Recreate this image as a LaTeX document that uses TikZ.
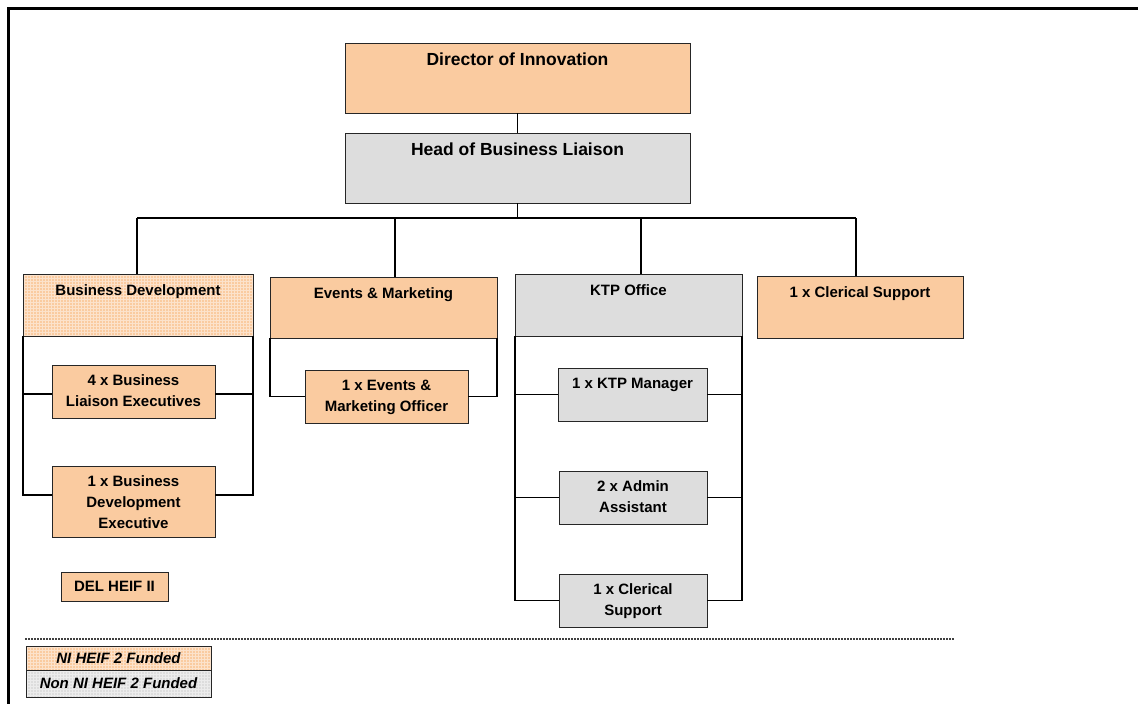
\documentclass[tikz,border=0pt]{standalone}
\usepackage{fontspec}
\setmainfont{Liberation Sans}
\usetikzlibrary{calc,patterns}
\definecolor{orgfill}{RGB}{250,203,160}
\definecolor{grayfill}{RGB}{221,221,221}
\begin{document}
\begin{tikzpicture}[x=1pt,y=-1pt,
  box/.style={draw=black!85, line width=1pt, inner sep=0pt, outer sep=0pt, anchor=north west},
  obox/.style={box, fill=orgfill},
  gbox/.style={box, fill=grayfill},
  pobox/.style={box, preaction={fill=orgfill}, pattern=grid, pattern color=white!45!orgfill},
  pgbox/.style={box, preaction={fill=grayfill}, pattern=grid, pattern color=white!45!grayfill},
  txt/.style={font=\bfseries\fontsize{15}{21}\selectfont, align=center, inner sep=0pt, anchor=north},
  bigtxt/.style={font=\bfseries\fontsize{17.5}{22}\selectfont, align=center, inner sep=0pt, anchor=north},
  ctxt/.style={font=\bfseries\fontsize{15}{21}\selectfont, align=center, inner sep=0pt},
  legtxt/.style={font=\bfseries\itshape\fontsize{15}{21}\selectfont, inner sep=0pt},
  conn/.style={line width=1.3pt, black}]
\useasboundingbox (0,0) rectangle (1138,704);
% frame
\draw[line width=3pt] (8.7,704) -- (8.7,8.7) -- (1138,8.7);

% boxes
\node[obox, minimum width=345, minimum height=70] (dir) at (345,43) {};
\node[gbox, minimum width=345, minimum height=70] (head) at (345,133) {};
\node[pobox, minimum width=230, minimum height=62] (bd) at (23,274) {};
\node[obox, minimum width=227, minimum height=61] (em) at (270,277) {};
\node[gbox, minimum width=227, minimum height=62] (ktp) at (515,274) {};
\node[obox, minimum width=206, minimum height=62] (cs) at (757,276) {};
\node[obox, minimum width=163, minimum height=53] (ble) at (52,365) {};
\node[obox, minimum width=163, minimum height=71] (bde) at (52,466) {};
\node[obox, minimum width=163, minimum height=53] (emo) at (305,370) {};
\node[gbox, minimum width=149, minimum height=53] (ktpm) at (558,368) {};
\node[gbox, minimum width=148, minimum height=53] (adm) at (559,471) {};
\node[gbox, minimum width=148, minimum height=53] (kcs) at (559,574) {};
\node[obox, minimum width=107, minimum height=29] (del) at (61,572) {};
\node[pobox, minimum width=185, minimum height=24] (leg1) at (26,646) {};
\node[pgbox, minimum width=185, minimum height=27] (leg2) at (26,670) {};

% texts
\node[bigtxt] (dirT) at ($(dir.north)+(0,9.5)$) {Director of Innovation};
\node[bigtxt] (headT) at ($(head.north)+(0,9.5)$) {Head of Business Liaison};
\node[txt] (bdT) at ($(bd.north)+(0,10.5)$) {Business Development};
\node[txt] (emT) at ($(em.north)+(0,10)$) {Events \& Marketing};
\node[txt] (ktpT) at ($(ktp.north)+(0,10.5)$) {KTP Office};
\node[txt] (csT) at ($(cs.north)+(0,10)$) {1 x Clerical Support};
\node[txt] (bleT) at ($(ble.north)+(0,9.5)$) {4 x Business\\Liaison Executives};
\node[txt] (bdeT) at ($(bde.north)+(0,9.5)$) {1 x Business\\Development\\Executive};
\node[txt] (emoT) at ($(emo.north)+(0,9.5)$) {1 x Events \&\\Marketing Officer};
\node[txt] (ktpmT) at ($(ktpm.north)+(0,9.5)$) {1 x KTP Manager};
\node[txt] (admT) at ($(adm.north)+(0,9.5)$) {2 x Admin\\Assistant};
\node[txt] (kcsT) at ($(kcs.north)+(0,9.5)$) {1 x Clerical\\Support};
\node[ctxt] (delT) at (del.center) {DEL HEIF II};
\node[legtxt] (leg1T) at (leg1.center) {NI HEIF 2 Funded};
\node[legtxt] (leg2T) at (leg2.center) {Non NI HEIF 2 Funded};

% connectors
\coordinate (b1) at (137,218);
\coordinate (b2) at (395,218);
\coordinate (b3) at (641,218);
\coordinate (b4) at (856,218);
\draw[conn] (dir.south) -- (head.north);
\draw[conn] (head.south) -- (head.south |- b1);
\draw[conn] (b1) -- (b4);
\draw[conn] (b1) -- (b1 |- bd.north);
\draw[conn] (b2) -- (b2 |- em.north);
\draw[conn] (b3) -- (b3 |- ktp.north);
\draw[conn] (b4) -- (b4 |- cs.north);

\draw[conn] (bd.south west) |- ([yshift=-2.5pt]ble.west);
\draw[conn] (bd.south west) |- ([yshift=6.5pt]bde.west);
\draw[conn] (bd.south east) |- ([yshift=-2.5pt]ble.east);
\draw[conn] (bd.south east) |- ([yshift=6.5pt]bde.east);

\draw[conn] (em.south west) |- (emo.west);
\draw[conn] (em.south east) |- (emo.east);

\draw[conn] (ktp.south west) |- (ktpm.west);
\draw[conn] (ktp.south west) |- (adm.west);
\draw[conn] (ktp.south west) |- (kcs.west);
\draw[conn] (ktp.south east) |- (ktpm.east);
\draw[conn] (ktp.south east) |- (adm.east);
\draw[conn] (ktp.south east) |- (kcs.east);

% dotted separator
\coordinate (sepL) at (25,639);
\coordinate (sepR) at (954,639);
\draw[line width=1.2pt, black!75, dash pattern=on 1.5pt off 1.5pt] (sepL) -- (sepR);
\end{tikzpicture}
\end{document}
